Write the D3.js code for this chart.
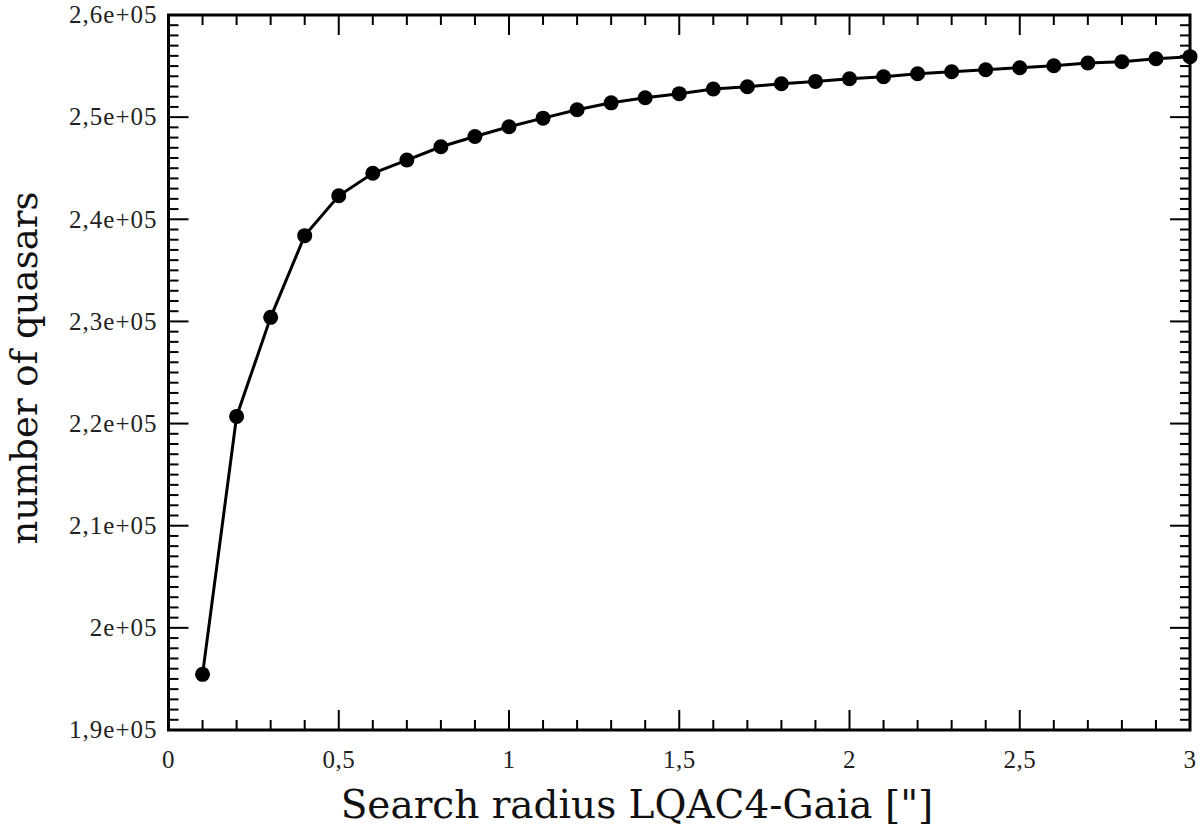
<!DOCTYPE html>
<html><head><meta charset="utf-8">
<script src="https://cdn.jsdelivr.net/npm/d3@7"></script>
<style>body{margin:0;background:#fff}</style>
</head><body>
<svg id="c" width="1200" height="832"></svg>
<script>
const radius = [0.1,0.2,0.3,0.4,0.5,0.6,0.7,0.8,0.9,1.0,1.1,1.2,1.3,1.4,1.5,1.6,1.7,1.8,1.9,2.0,2.1,2.2,2.3,2.4,2.5,2.6,2.7,2.8,2.9,3.0];
const quasars = [195450,220700,230400,238400,242300,244500,245800,247100,248100,249060,249900,250720,251400,251900,252300,252750,252980,253270,253500,253760,253960,254250,254450,254640,254840,255030,255300,255430,255720,255920];
const xTickValues = [0,0.5,1,1.5,2,2.5,3];
const xTickLabels = ["0","0,5","1","1,5","2","2,5","3"];
const yTickValues = [190000,200000,210000,220000,230000,240000,250000,260000];
const yTickLabels = ["1,9e+05","2e+05","2,1e+05","2,2e+05","2,3e+05","2,4e+05","2,5e+05","2,6e+05"];
const xTitle = 'Search radius LQAC4-Gaia ["]';
const yTitle = 'number of quasars';

const svg = d3.select("#c");
const L=168.5, R=1190, T=15, B=730;
const x = d3.scaleLinear().domain([0,3]).range([L,R]);
const y = d3.scaleLinear().domain([190000,260000]).range([B,T]);

const minorX = d3.range(0,31).map(i=>i/10).filter(v=>Math.abs(v*2-Math.round(v*2))>1e-6);
const minorY = d3.range(190000,260001,1000).filter(v=>v%10000!==0);

const g = svg.append("g").attr("stroke","#000").attr("stroke-width",2);
xTickValues.forEach(v=>{
  g.append("line").attr("x1",x(v)).attr("x2",x(v)).attr("y1",B).attr("y2",B-20);
  g.append("line").attr("x1",x(v)).attr("x2",x(v)).attr("y1",T).attr("y2",T+20);
});
minorX.forEach(v=>{
  g.append("line").attr("x1",x(v)).attr("x2",x(v)).attr("y1",B).attr("y2",B-10);
  g.append("line").attr("x1",x(v)).attr("x2",x(v)).attr("y1",T).attr("y2",T+10);
});
yTickValues.forEach(v=>{
  g.append("line").attr("x1",L).attr("x2",L+20).attr("y1",y(v)).attr("y2",y(v));
  g.append("line").attr("x1",R).attr("x2",R-20).attr("y1",y(v)).attr("y2",y(v));
});
minorY.forEach(v=>{
  g.append("line").attr("x1",L).attr("x2",L+10).attr("y1",y(v)).attr("y2",y(v));
  g.append("line").attr("x1",R).attr("x2",R-10).attr("y1",y(v)).attr("y2",y(v));
});
svg.append("rect").attr("x",L).attr("y",T).attr("width",R-L).attr("height",B-T)
  .attr("fill","none").attr("stroke","#000").attr("stroke-width",3);

const tickFont = "'Liberation Serif', 'Times New Roman', serif";
svg.append("g").selectAll("text").data(xTickValues).join("text")
  .attr("x",d=>x(d)).attr("y",B+38).attr("text-anchor","middle")
  .style("font-family",tickFont).style("font-size","25px").style("letter-spacing","0.5px").attr("fill","#222")
  .text((d,i)=>xTickLabels[i]);
svg.append("g").selectAll("text").data(yTickValues).join("text")
  .attr("x",L-11).attr("y",d=>y(d)).attr("dy","0.33em").attr("text-anchor","end")
  .style("font-family",tickFont).style("font-size","25px").style("letter-spacing","1px").attr("fill","#222")
  .text((d,i)=>yTickLabels[i]);

svg.append("path").datum(radius.map((r,i)=>[r,quasars[i]]))
  .attr("d",d3.line().x(d=>x(d[0])).y(d=>y(d[1])))
  .attr("fill","none").attr("stroke","#000").attr("stroke-width",3);
svg.append("g").selectAll("circle").data(radius).join("circle")
  .attr("cx",d=>x(d)).attr("cy",(d,i)=>y(quasars[i])).attr("r",7.5).attr("fill","#000");

svg.append("text").attr("x",637).attr("y",818).attr("text-anchor","middle")
  .style("font-family","'DejaVu Serif', serif").style("font-size","39px").attr("fill","#111").text(xTitle);
svg.append("text").attr("transform","translate(37,368) rotate(-90)").attr("text-anchor","middle")
  .style("font-family","'DejaVu Serif', serif").style("font-size","37px").attr("fill","#111").text(yTitle);
</script>
</body></html>
